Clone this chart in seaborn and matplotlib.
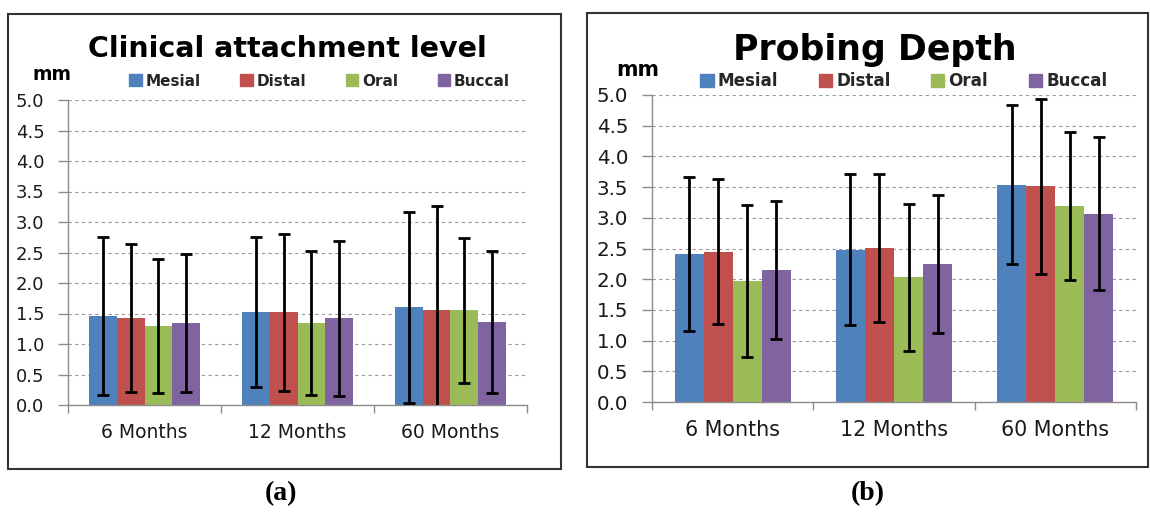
import matplotlib
matplotlib.use('Agg')
import matplotlib.pyplot as plt
import matplotlib.patches as mpatches
import seaborn as sns
import pandas as pd

periods = ['6 Months', '12 Months', '60 Months']
sites = ['Mesial', 'Distal', 'Oral', 'Buccal']
colors = ['#4F81BD', '#C0504D', '#9BBB59', '#8064A2']

# clinical attachment level (mean, sd) per site
cal_mesial = [1.46, 1.52, 1.60]
cal_distal = [1.43, 1.52, 1.55]
cal_oral = [1.30, 1.34, 1.55]
cal_buccal = [1.35, 1.42, 1.36]
cal_mesial_sd = [1.30, 1.23, 1.57]
cal_distal_sd = [1.21, 1.29, 1.72]
cal_oral_sd = [1.10, 1.18, 1.19]
cal_buccal_sd = [1.13, 1.27, 1.17]

# probing depth (mean, sd) per site
pd_mesial = [2.41, 2.48, 3.54]
pd_distal = [2.45, 2.51, 3.51]
pd_oral = [1.97, 2.03, 3.19]
pd_buccal = [2.15, 2.25, 3.07]
pd_mesial_sd = [1.26, 1.23, 1.29]
pd_distal_sd = [1.18, 1.21, 1.42]
pd_oral_sd = [1.24, 1.20, 1.20]
pd_buccal_sd = [1.12, 1.12, 1.25]

yticks = [0.0, 0.5, 1.0, 1.5, 2.0, 2.5, 3.0, 3.5, 4.0, 4.5, 5.0]

W, H = 1150, 513


def fx(x):
    return x / W


def fy(y):
    return 1 - y / H


def make_df(means):
    rows = []
    for site, vals in zip(sites, means):
        for per, v in zip(periods, vals):
            rows.append({'period': per, 'site': site, 'value': v})
    return pd.DataFrame(rows)


def draw_panel(fig, box, means, sds, title, title_xy, title_size, mm_xy, leg_anchor, colspace, k):
    # k scales the font sizes (right panel is drawn a little larger)
    x0, x1, ytop, ybot = box
    ax = fig.add_axes([fx(x0), fy(ybot), fx(x1) - fx(x0), fy(ytop) - fy(ybot)])
    df = make_df(means)
    sns.barplot(data=df, x='period', y='value', hue='site', palette=colors, saturation=1,
                errorbar=None, width=0.72, linewidth=0, ax=ax, legend=False)
    for cont, sd in zip(ax.containers, sds):
        xs = [b.get_x() + b.get_width() / 2 for b in cont]
        hs = [b.get_height() for b in cont]
        ax.errorbar(xs, hs, yerr=sd, fmt='none', ecolor='black', elinewidth=2,
                    capsize=4.5, capthick=2, zorder=4)

    ax.set_xlim(-0.5, 2.5)
    ax.set_ylim(0, 5.0)
    ax.set_yticks(yticks)
    ax.set_yticklabels([f'{t:.1f}' for t in yticks])
    ax.set_xticks([-0.5, 0.5, 1.5, 2.5], minor=True)
    ax.tick_params(axis='x', which='major', bottom=True, length=0, pad=13,
                   labelsize=13.5 * k, labelcolor='#1a1a1a')
    ax.tick_params(axis='x', which='minor', bottom=True, length=6, color='#8c8c8c', width=1)
    ax.tick_params(axis='y', left=True, length=7, color='#8c8c8c', width=1, pad=10,
                   labelsize=13 * k, labelcolor='#1a1a1a')
    ax.set_xlabel('')
    ax.set_ylabel('')
    ax.grid(True, axis='y', linestyle=(0, (3, 3)), color='#9a9a9a', linewidth=0.8)
    ax.grid(False, axis='x')
    ax.set_axisbelow(True)
    for s in ['top', 'right']:
        ax.spines[s].set_visible(False)
    for s in ['left', 'bottom']:
        ax.spines[s].set_color('#8c8c8c')
        ax.spines[s].set_linewidth(1)
    ax.set_facecolor('white')

    handles = [mpatches.Patch(color=c, label=s) for c, s in zip(colors, sites)]
    ax.legend(handles=handles, loc='center', bbox_to_anchor=leg_anchor, ncol=4, frameon=False,
              handlelength=0.8, handleheight=0.8, handletextpad=0.25, columnspacing=colspace,
              prop={'weight': 'bold', 'size': 11 * k})

    fig.text(fx(title_xy[0]), fy(title_xy[1]), title, ha='center', va='center',
             fontsize=title_size, fontweight='bold', color='black')
    fig.text(fx(mm_xy[0]), fy(mm_xy[1]), 'mm', ha='center', va='center',
             fontsize=13.5 * k, fontweight='bold', color='black')
    return ax


sns.set_theme(style='white')
plt.rcParams['font.family'] = ['DejaVu Sans']

fig = plt.figure(figsize=(11.5, 5.13), dpi=100)
fig.patch.set_facecolor('white')

# panel frames
fig.patches.append(mpatches.Rectangle((fx(8), fy(469)), fx(553), 455 / H, transform=fig.transFigure,
                                      fill=False, edgecolor='#333333', linewidth=1.5))
fig.patches.append(mpatches.Rectangle((fx(587), fy(467)), fx(561), 454 / H, transform=fig.transFigure,
                                      fill=False, edgecolor='#333333', linewidth=1.5))

draw_panel(fig, (68, 527, 100, 405),
           [cal_mesial, cal_distal, cal_oral, cal_buccal],
           [cal_mesial_sd, cal_distal_sd, cal_oral_sd, cal_buccal_sd],
           'Clinical attachment level', (287, 49), 20.5, (52, 75), (0.548, 1.062), 2.6, 1.0)

draw_panel(fig, (652, 1136, 95, 402),
           [pd_mesial, pd_distal, pd_oral, pd_buccal],
           [pd_mesial_sd, pd_distal_sd, pd_oral_sd, pd_buccal_sd],
           'Probing Depth', (875, 50), 25, (638, 70), (0.52, 1.045), 2.4, 1.1)

for lab, x in [('a', 281), ('b', 868)]:
    fig.text(fx(x), fy(494), f'({lab})', ha='center', va='center', fontsize=20, fontweight='bold',
             family='Liberation Serif', color='black')

fig.savefig('out.png', dpi=100)
